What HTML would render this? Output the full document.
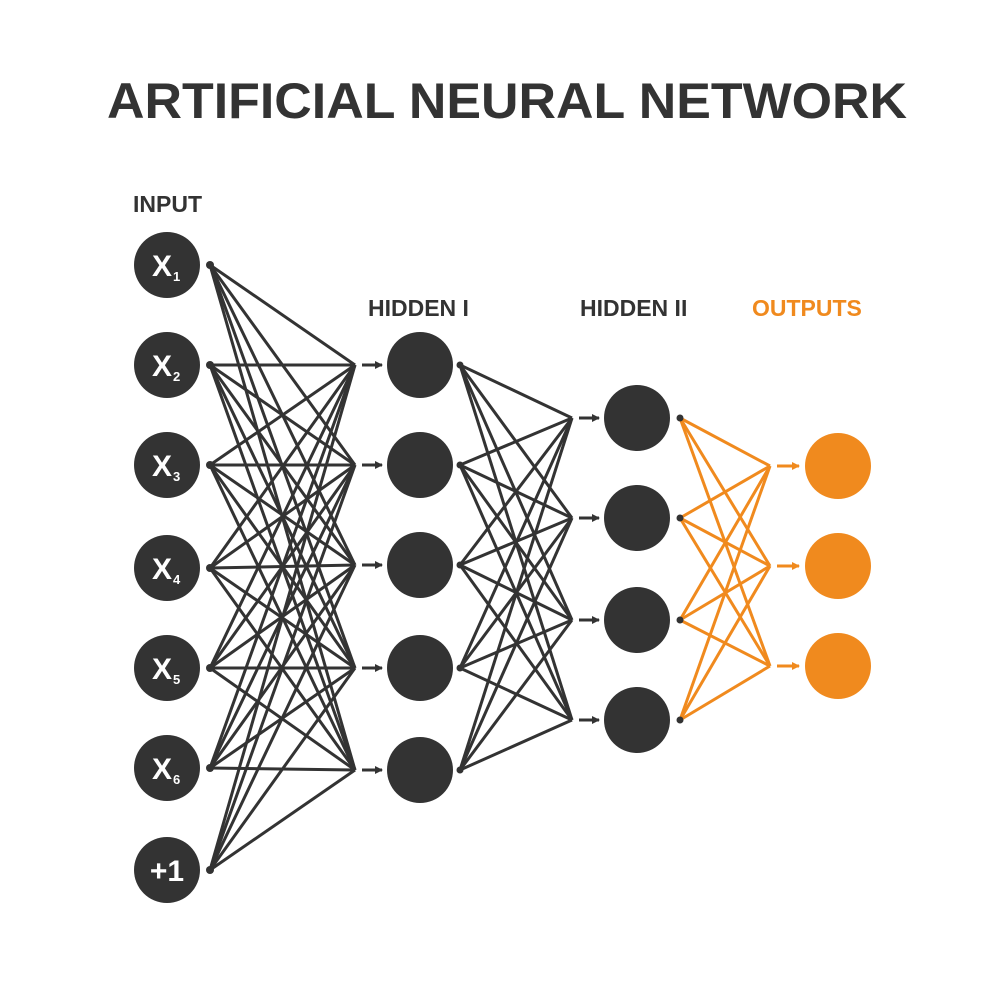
<!DOCTYPE html>
<html><head><meta charset="utf-8"><style>
html,body{margin:0;padding:0;background:#fff;}
body{width:1000px;height:1000px;overflow:hidden;}
</style></head><body>
<svg width="1000" height="1000" viewBox="0 0 1000 1000" xmlns="http://www.w3.org/2000/svg" font-family="Liberation Sans, sans-serif">
<defs>
<marker id="ag" markerWidth="8" markerHeight="8" refX="7" refY="4" orient="auto" markerUnits="userSpaceOnUse"><path d="M0,0 L8,4 L0,8 z" fill="#333"/></marker>
<marker id="ao" markerWidth="8" markerHeight="8" refX="7" refY="4" orient="auto" markerUnits="userSpaceOnUse"><path d="M0,0 L8,4 L0,8 z" fill="#F08A1E"/></marker>
</defs>
<text x="507" y="118" text-anchor="middle" font-size="50" font-weight="bold" fill="#333" textLength="800" lengthAdjust="spacingAndGlyphs">ARTIFICIAL NEURAL NETWORK</text>
<text x="133" y="212" font-size="23" font-weight="bold" fill="#333">INPUT</text>
<text x="368" y="316" font-size="23" font-weight="bold" fill="#333">HIDDEN I</text>
<text x="580" y="316" font-size="23" font-weight="bold" fill="#333">HIDDEN II</text>
<text x="752" y="316" font-size="23" font-weight="bold" fill="#F08A1E">OUTPUTS</text>
<g id="lines" stroke-width="3" fill="none"></g>
<g id="nodes"></g>
</svg>
<script>
var ns="http://www.w3.org/2000/svg";
function el(p,t,a){var e=document.createElementNS(ns,t);for(var k in a)e.setAttribute(k,a[k]);p.appendChild(e);return e;}
var L=document.getElementById('lines'),N=document.getElementById('nodes');
var inp=[265,365,465,568,668,768,870],h1=[365,465,565,668,770],h2=[418,518,620,720],out=[466,566,666];
inp.forEach(function(a){h1.forEach(function(b){el(L,'line',{x1:210,y1:a,x2:355,y2:b,stroke:'#333'});});});
h1.forEach(function(a){h2.forEach(function(b){el(L,'line',{x1:460,y1:a,x2:572,y2:b,stroke:'#333'});});});
h2.forEach(function(a){out.forEach(function(b){el(L,'line',{x1:680,y1:a,x2:770,y2:b,stroke:'#F08A1E'});});});
h1.forEach(function(y){el(L,'line',{x1:362,y1:y,x2:382,y2:y,stroke:'#333','marker-end':'url(#ag)'});});
h2.forEach(function(y){el(L,'line',{x1:579,y1:y,x2:599,y2:y,stroke:'#333','marker-end':'url(#ag)'});});
out.forEach(function(y){el(L,'line',{x1:777,y1:y,x2:799,y2:y,stroke:'#F08A1E','marker-end':'url(#ao)'});});
var labs=['1','2','3','4','5','6'];
inp.forEach(function(y,i){
 el(N,'circle',{cx:167,cy:y,r:33,fill:'#333'});
 el(N,'circle',{cx:210,cy:y,r:4,fill:'#333'});
 if(i<6){var t=el(N,'text',{x:152,y:y+11,'font-size':'30','font-weight':'bold',fill:'#fff'});t.textContent='X';
  var s=el(N,'text',{x:173,y:y+16,'font-size':'13','font-weight':'bold',fill:'#fff'});s.textContent=labs[i];}
 else{var t=el(N,'text',{x:167,y:y+11,'font-size':'30','font-weight':'bold',fill:'#fff','text-anchor':'middle'});t.textContent='+1';}
});
h1.forEach(function(y){el(N,'circle',{cx:420,cy:y,r:33,fill:'#333'});el(N,'circle',{cx:460,cy:y,r:3.5,fill:'#333'});});
h2.forEach(function(y){el(N,'circle',{cx:637,cy:y,r:33,fill:'#333'});el(N,'circle',{cx:680,cy:y,r:3.5,fill:'#333'});});
out.forEach(function(y){el(N,'circle',{cx:838,cy:y,r:33,fill:'#F08A1E'});});
</script>
</body></html>
